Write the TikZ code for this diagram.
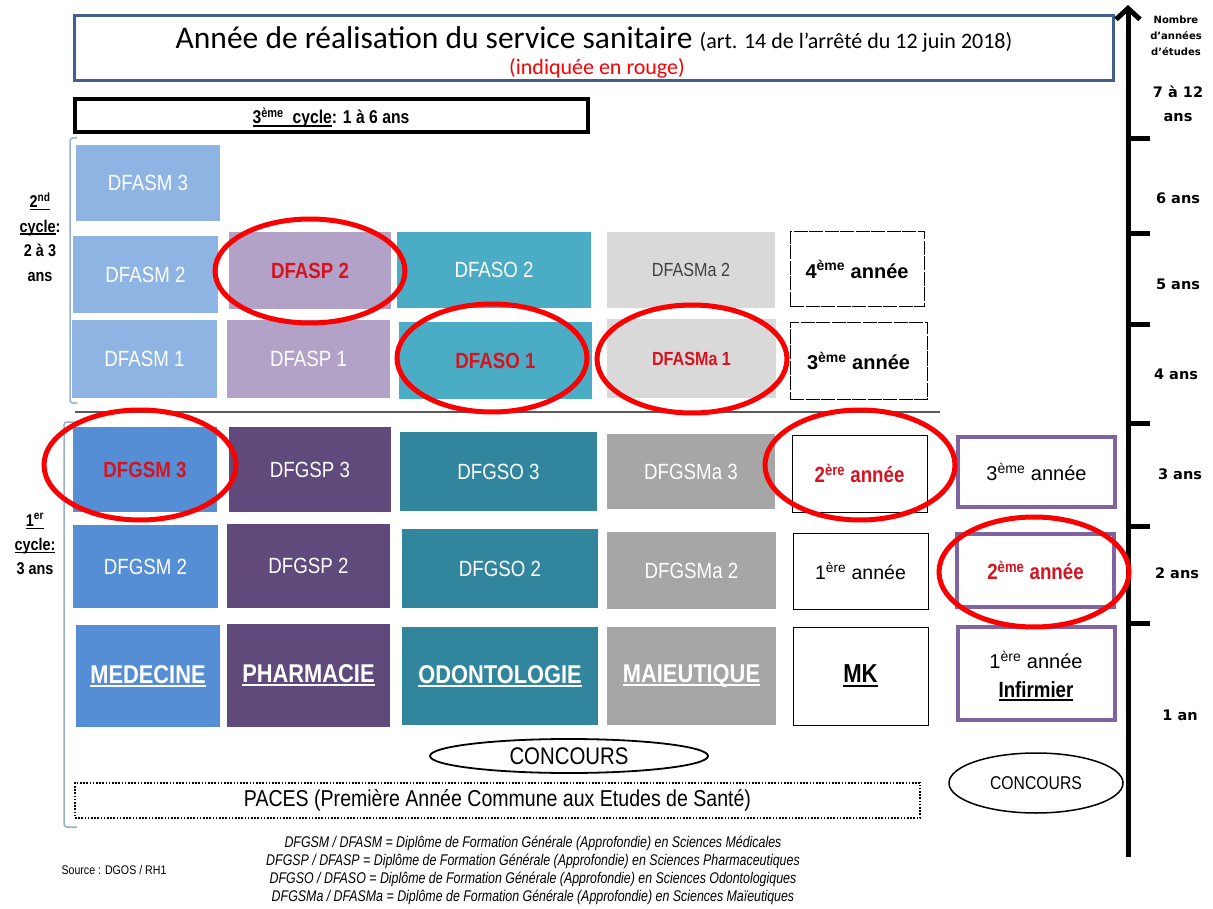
\documentclass[tikz,border=0pt]{standalone}
\usepackage{fontspec}
\setmainfont{Liberation Sans}
\newfontfamily\narrow{Liberation Sans}[FakeStretch=0.85]
\newfontfamily\vnarrow{Liberation Sans}[FakeStretch=0.8]
\newfontfamily\calib{Carlito}
\newfontfamily\djv{DejaVu Sans}
\usetikzlibrary{shapes.geometric,arrows.meta}
\definecolor{titleblue}{RGB}{65,95,140}
\definecolor{asm}{RGB}{142,180,227}
\definecolor{gsm}{RGB}{85,142,213}
\definecolor{asp}{RGB}{179,162,199}
\definecolor{gsp}{RGB}{96,74,123}
\definecolor{aso}{RGB}{75,172,198}
\definecolor{gso}{RGB}{49,133,156}
\definecolor{asma}{RGB}{217,217,217}
\definecolor{gsma}{RGB}{166,166,166}
\definecolor{infp}{RGB}{128,100,162}
\definecolor{redtxt}{RGB}{212,20,32}
\definecolor{ellred}{RGB}{250,0,0}
\definecolor{brk}{RGB}{150,175,205}
\definecolor{sepgray}{RGB}{90,90,90}
\definecolor{dgray}{RGB}{64,64,64}
\newcommand\fsz[1]{\fontsize{#1}{#1}\selectfont}
\newcommand\ulin[1]{\leavevmode\sbox0{#1}\rlap{\usebox0}\rule[-0.15em]{\wd0}{0.075em}}
\begin{document}
\begin{tikzpicture}[x=1pt,y=-1pt,
  every node/.style={inner sep=0pt,outer sep=0pt},
  wtxt/.style={text=white,font=\narrow\fsz{22}},
  redb/.style={text=redtxt,font=\narrow\bfseries\fsz{22}},
  bigw/.style={text=white,font=\narrow\bfseries\fsz{25.7}},
  mkbox/.style={draw=black,line width=1pt},
  mkdash/.style={draw=black,line width=1pt,dash pattern=on 14pt off 1.5pt},
  infbox/.style={draw=infp,line width=4pt},
  redell/.style={draw=ellred,line width=5pt},
  axlab/.style={font=\djv\bfseries\fsz{14.5}},
  tick/.style={line width=5pt}]
\useasboundingbox (0,0) rectangle (1213,909);

% title
\node[draw=titleblue,line width=3pt,minimum width=1039,minimum height=65] (title) at (594,48) {};
\node (t1) at (594,39) {\calib\fsz{31.5}Année de réalisation du service sanitaire \fsz{22}(art. 14 de l’arrêté du 12 juin 2018)};
\node[text=red] (t2) at (597,68) {\calib\fsz{22}(indiquée en rouge)};

% 3e cycle
\node[draw,line width=4pt,minimum width=513,minimum height=33] (c3) at (331.5,115.5) {};
\node (c3t) at (331,118) {\narrow\bfseries\fsz{18.5}\ulin{3\textsuperscript{ème}\ \ cycle}: 1 à 6 ans};

% cycle labels
\node[align=center,font=\narrow\bfseries\fontsize{17}{24.5}\selectfont] (cyc2) at (40,237) {\ulin{2\textsuperscript{nd}}\\ \ulin{cycle}:\\ 2 à 3\\ ans};
\node[align=center,font=\narrow\bfseries\fontsize{17}{24}\selectfont] (cyc1) at (35,544) {\ulin{1\textsuperscript{er}}\\ \ulin{cycle:}\\ 3 ans};
\draw[brk,line width=1.5pt,rounded corners=3pt] (77,138) -- (70,138) -- (70,403) -- (77,403);
\draw[brk,line width=1.5pt,rounded corners=3pt] (77,422) -- (64,422) -- (64,827) -- (77,827);
\draw[sepgray,line width=1.5pt] (75,412) -- (940,412);

% column 1
\node[fill=asm,minimum width=144,minimum height=76,wtxt] (dfasm3) at (148,183) {DFASM 3};
\node[fill=asm,minimum width=145,minimum height=77,wtxt] (dfasm2) at (145.5,274.5) {DFASM 2};
\node[fill=asm,minimum width=145,minimum height=78,wtxt] (dfasm1) at (144.5,359) {DFASM 1};
\node[fill=gsm,minimum width=144,minimum height=85,redb] (dfgsm3) at (145,469.5) {DFGSM 3};
\node[fill=gsm,minimum width=145,minimum height=83,wtxt] (dfgsm2) at (145.5,566.5) {DFGSM 2};
\node[fill=gsm,minimum width=144,minimum height=102,bigw] (med) at (148,676) {\ulin{MEDECINE}};
% column 2
\node[fill=asp,minimum width=162,minimum height=77,redb] (dfasp2) at (310,270.5) {DFASP 2};
\node[fill=asp,minimum width=163,minimum height=78,wtxt] (dfasp1) at (308.5,359) {DFASP 1};
\node[fill=gsp,minimum width=162,minimum height=85,wtxt] (dfgsp3) at (310,469.5) {DFGSP 3};
\node[fill=gsp,minimum width=163,minimum height=84,wtxt] (dfgsp2) at (308.5,566) {DFGSP 2};
\node[fill=gsp,minimum width=163,minimum height=103,bigw] (pha) at (308.5,675.5) {\ulin{PHARMACIE}};
% column 3
\node[fill=aso,minimum width=194,minimum height=76,wtxt] (dfaso2) at (494,270) {DFASO 2};
\node[fill=aso,minimum width=193,minimum height=77,redb] (dfaso1) at (495.5,360.5) {DFASO 1};
\node[fill=gso,minimum width=197,minimum height=79,wtxt] (dfgso3) at (498.5,471.5) {DFGSO 3};
\node[fill=gso,minimum width=196,minimum height=79,wtxt] (dfgso2) at (500,568.5) {DFGSO 2};
\node[fill=gso,minimum width=196,minimum height=98,bigw] (odo) at (500,676) {\ulin{ODONTOLOGIE}};
% column 4
\node[fill=asma,minimum width=168,minimum height=76,text=dgray,font=\narrow\fsz{19}] (dfasma2) at (691,270) {DFASMa 2};
\node[fill=asma,minimum width=169,minimum height=79,redb,font=\narrow\bfseries\fsz{19}] (dfasma1) at (691.5,358.5) {DFASMa 1};
\node[fill=gsma,minimum width=168,minimum height=75,wtxt] (dfgsma3) at (691,471.5) {DFGSMa 3};
\node[fill=gsma,minimum width=169,minimum height=77,wtxt] (dfgsma2) at (691.5,570.5) {DFGSMa 2};
\node[fill=gsma,minimum width=169,minimum height=98,bigw] (mai) at (691.5,676) {\ulin{MAIEUTIQUE}};
% column 5
\node[mkdash,minimum width=134,minimum height=75,font=\bfseries\fsz{20}] (mk4) at (857,269.5) {4\textsuperscript{ème} année};
\node[mkdash,minimum width=137,minimum height=76,font=\bfseries\fsz{20}] (mk3) at (858.5,361) {3\textsuperscript{ème} année};
\node[mkbox,minimum width=135,minimum height=77,text=redtxt,font=\narrow\bfseries\fsz{22}] (mk2) at (859.5,473.5) {2\textsuperscript{ère} année};
\node[mkbox,minimum width=135,minimum height=76,font=\fsz{19.5}] (mk1) at (860.5,571) {1\textsuperscript{ère} année};
\node[mkbox,minimum width=135,minimum height=98,font=\narrow\bfseries\fsz{26}] (mk) at (860.5,676) {\ulin{MK}};
% column 6
\node[infbox,minimum width=157,minimum height=70,font=\fsz{20}] (inf3) at (1036.5,472) {3\textsuperscript{ème} année};
\node[infbox,minimum width=157,minimum height=73,text=redtxt,font=\narrow\bfseries\fsz{22}] (inf2) at (1035.5,570.5) {2\textsuperscript{ème} année};
\node[infbox,minimum width=157,minimum height=93] (inf1) at (1036.5,673.5) {};
\node[align=center,font=\fontsize{20}{29}\selectfont] (inf1t) at (1036,676) {1\textsuperscript{ère} année\\ \narrow\bfseries\fsz{22}\ulin{Infirmier}};

% concours + paces
\node[ellipse,draw,line width=1.8pt,minimum width=278,minimum height=34,font=\narrow\fsz{24}] (conc) at (569,756) {CONCOURS};
\node[draw,line width=2.5pt,dash pattern=on 1.6pt off 1.6pt,minimum width=845,minimum height=35,font=\narrow\fsz{23}] (paces) at (497.5,800.5) {PACES (Première Année Commune aux Etudes de Santé)};
\node[ellipse,draw,line width=1.5pt,minimum width=174,minimum height=60,font=\narrow\fsz{18.5}] (conc2) at (1036,783) {CONCOURS};

% legend
\node[align=center,font=\vnarrow\itshape\fontsize{15.5}{18}\selectfont] (leg) at (533,870) {DFGSM / DFASM = Diplôme de Formation Générale (Approfondie) en Sciences Médicales\\
DFGSP / DFASP = Diplôme de Formation Générale (Approfondie) en Sciences Pharmaceutiques\\
DFGSO / DFASO = Diplôme de Formation Générale (Approfondie) en Sciences Odontologiques\\
DFGSMa / DFASMa = Diplôme de Formation Générale (Approfondie) en Sciences Maïeutiques};
\node (src) at (114,870) {\narrow\fsz{12.5}Source : DGOS / RH1};

% axis
\coordinate (axb) at (1128,857);
\coordinate (axt) at (1128,5);
\draw[line width=5pt,-{Straight Barb[length=11pt,width=24pt]}] (axb) -- (axt);
\foreach \ty in {139,234,325,423,526,623} \draw[tick] (1126,\ty) -- (1150,\ty);
\node[align=center,font=\djv\bfseries\fontsize{10}{16}\selectfont] (axn) at (1176,36) {Nombre\\ d’années\\ d’études};
\node[align=center,font=\djv\bfseries\fontsize{14.5}{24}\selectfont] (a7) at (1178,104) {7 à 12\\ ans};
\node[axlab] (a6) at (1178,198) {6 ans};
\node[axlab] (a5) at (1178,284) {5 ans};
\node[axlab] (a4) at (1176,374) {4 ans};
\node[axlab] (a3) at (1180,474) {3 ans};
\node[axlab] (a2) at (1177,573) {2 ans};
\node[axlab] (a1) at (1180,715) {1 an};

% red ellipses
\draw[redell] (dfasp2.center) ++(0,0.5) ellipse [x radius=95,y radius=52];
\draw[redell] (492,358) ellipse [x radius=95,y radius=54];
\draw[redell] (692,359) ellipse [x radius=95,y radius=54];
\draw[redell] (140,465) ellipse [x radius=96,y radius=55];
\draw[redell] (860,465) ellipse [x radius=95,y radius=55];
\draw[redell] (1034,572) ellipse [x radius=95,y radius=55];
\end{tikzpicture}
\end{document}
